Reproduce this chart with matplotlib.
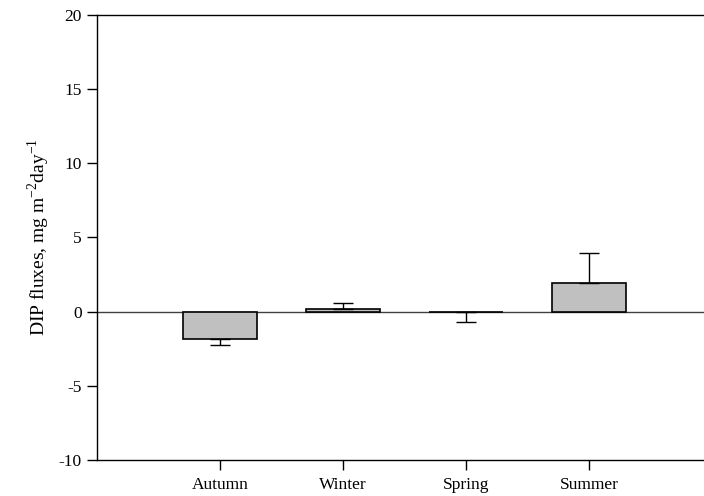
import numpy as np
import matplotlib.pyplot as plt

plt.rcParams['font.family'] = ['Liberation Serif', 'DejaVu Serif']
plt.rcParams['mathtext.fontset'] = 'custom'
plt.rcParams['mathtext.rm'] = 'Liberation Serif'
plt.rcParams['axes.unicode_minus'] = False

seasons = ['Autumn', 'Winter', 'Spring', 'Summer']
flux = [-1.82, 0.15, -0.05, 1.93]
err = [0.40, 0.45, 0.65, 2.05]

x = np.arange(1, len(seasons) + 1)

fig = plt.figure(figsize=(7.04, 4.96), dpi=100)
# axes extends past the right edge of the image, like the original
ax = fig.add_axes([97 / 704, 1 - 460 / 496, 615 / 704, 445 / 496])

# one-sided error bars pointing away from zero
lower = [e if v < 0 else 0 for v, e in zip(flux, err)]
upper = [e if v >= 0 else 0 for v, e in zip(flux, err)]

ax.bar(x, flux, width=0.6, color='#c0c0c0', edgecolor='black', linewidth=1.2, zorder=2)
ax.errorbar(x, flux, yerr=[lower, upper], fmt='none', ecolor='black',
            elinewidth=1, capsize=7, capthick=1, zorder=3)
ax.axhline(0, color='#404040', linewidth=1, zorder=1)

ax.set_xlim(0, 5)
ax.set_ylim(-10, 20)
ax.set_yticks([-10, -5, 0, 5, 10, 15, 20])
ax.set_xticks(x)
ax.set_xticklabels(seasons)
ax.tick_params(direction='out', length=7, labelsize=12.5, width=1, pad=4)
ax.tick_params(axis='x', pad=5)
ax.set_ylabel('DIP fluxes, mg m$^{\\mathrm{-2}}$day$^{\\mathrm{-1}}$', fontsize=14, labelpad=5)
for s in ax.spines.values():
    s.set_linewidth(1)

plt.savefig('out.png', dpi=100)
